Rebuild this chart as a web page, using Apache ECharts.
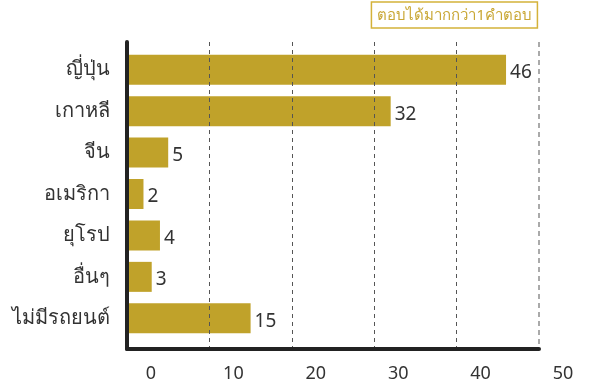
<!DOCTYPE html>
<html><head><meta charset="utf-8">
<script src="https://cdn.jsdelivr.net/npm/echarts@6/dist/echarts.min.js"></script>
<style>html,body{margin:0;padding:0;background:#fff}#c{width:595px;height:386px}</style>
</head><body><div id="c"></div>
<script>
const categories = ['ญี่ปุ่น','เกาหลี','จีน','อเมริกา','ยุโรป','อื่นๆ','ไม่มีรถยนต์'];
const values = [46, 32, 5, 2, 4, 3, 15];
const xMin = 0, xMax = 50, xStep = 10;
const note = 'ตอบได้มากกว่า1คำตอบ';

const FONT = '"Noto Sans", "DejaVu Sans", sans-serif';
const chart = echarts.init(document.getElementById('c'), null, {renderer:'canvas'});
chart.setOption({
  animation:false,
  title:{text:note, right:57, top:2, padding:[6,6,5,6], borderColor:'#D4B23A', borderWidth:1.5,
    textStyle:{color:'#C9A735', fontSize:15, fontWeight:'normal', fontFamily:FONT}},
  grid:[
    {left:127, right:56, top:42, bottom:37},
    {left:127, right:56, top:49, bottom:47}
  ],
  xAxis:[
    {gridIndex:0, type:'value', min:xMin, max:xMax, interval:xStep, z:10,
     axisLine:{show:true, lineStyle:{color:'#222', width:4}}, axisTick:{show:false},
     axisLabel:{color:'#333', fontSize:18, fontFamily:FONT, margin:16, padding:[0,0,0,48]},
     splitLine:{show:true, showMinLine:false, showMaxLine:false, lineStyle:{color:'#555', type:[4,4], width:1}}},
    {gridIndex:1, type:'value', min:xMin, max:xMax, show:false},
    {gridIndex:0, type:'value', min:xMin, max:xMax, interval:xMax, axisLine:{show:false}, axisTick:{show:false}, axisLabel:{show:false},
     splitLine:{show:true, showMinLine:false, lineStyle:{color:'#aaa', type:[5,4], width:2}}}
  ],
  yAxis:[
    {gridIndex:0, type:'value', min:0, max:1, z:10, axisLine:{show:true, lineStyle:{color:'#222', width:4}},
     axisTick:{show:false}, axisLabel:{show:false}, splitLine:{show:false}},
    {gridIndex:1, type:'category', data:categories, inverse:true, axisLine:{show:false}, axisTick:{show:false},
     axisLabel:{color:'#333', fontSize:20, fontFamily:FONT, margin:17}}
  ],
  series:[{
    type:'bar', xAxisIndex:1, yAxisIndex:1, data:values, barWidth:30,
    itemStyle:{color:'#C0A22A'},
    label:{show:true, position:'right', distance:4, offset:[0,3], color:'#333', fontSize:19, fontFamily:FONT}
  }]
});
</script></body></html>
